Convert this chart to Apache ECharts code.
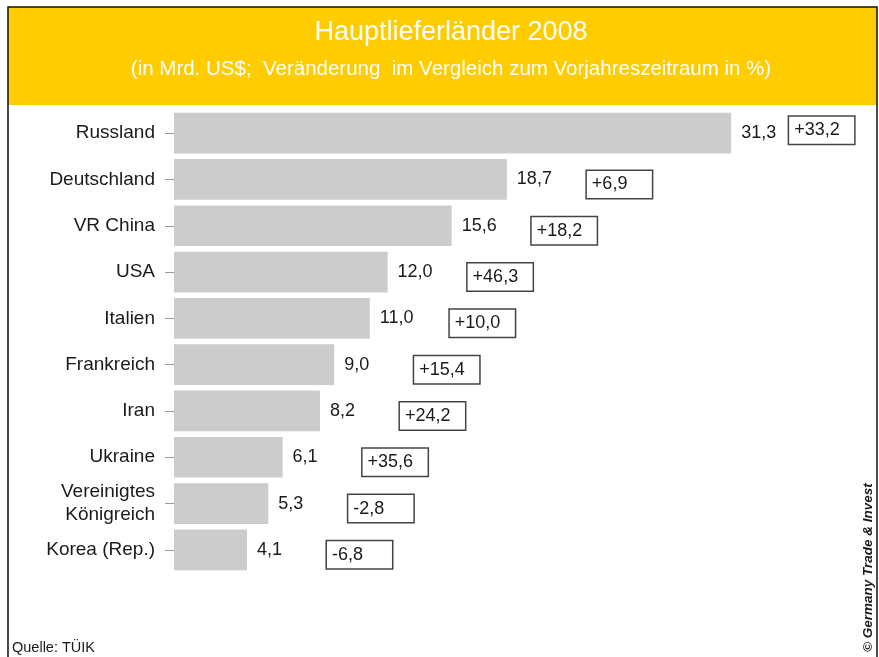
<!DOCTYPE html>
<html lang="de">
<head>
    <meta charset="UTF-8">
    <title>Hauptlieferländer 2008</title>
    <script type="text/javascript" src="https://cdn.jsdelivr.net/npm/echarts@6/dist/echarts.min.js"></script>
    <style>
        html, body { margin: 0; padding: 0; background: #fff; }
        #main { width: 879px; height: 657px; }
    </style>
</head>
<body>
<div id="main"></div>
<script>
    // Länder (von oben nach unten)
    var countries = ['Russland', 'Deutschland', 'VR China', 'USA', 'Italien',
        'Frankreich', 'Iran', 'Ukraine', 'Vereinigtes\nKönigreich', 'Korea (Rep.)'];
    // Einfuhr in Mrd. US$
    var imports = [31.3, 18.7, 15.6, 12.0, 11.0, 9.0, 8.2, 6.1, 5.3, 4.1];
    // Veränderung zum Vorjahr in %
    var changes = [33.2, 6.9, 18.2, 46.3, 10.0, 15.4, 24.2, 35.6, -2.8, -6.8];

    var font = '"Liberation Sans", Arial, sans-serif';

    function fmt(v) {
        return v.toFixed(1).replace('.', ',');
    }
    function fmtChange(v) {
        return (v > 0 ? '+' : '') + fmt(v);
    }

    var chart = echarts.init(document.getElementById('main'));
    var option = {
        animation: false,
        grid: { left: 174, right: 82, top: 110, bottom: 84 },
        xAxis: {
            type: 'value',
            min: 0,
            max: 35,
            show: false
        },
        yAxis: {
            type: 'category',
            inverse: true,
            data: countries,
            axisLine: { show: false },
            axisTick: { show: true, alignWithLabel: true, length: 9, lineStyle: { color: '#9a9a9a' } },
            axisLabel: {
                color: '#1a1a1a',
                fontFamily: font,
                fontSize: 19,
                lineHeight: 23,
                margin: 19
            }
        },
        series: [
            {
                type: 'bar',
                data: imports,
                barWidth: '88%',
                itemStyle: { color: '#cccccc' },
                label: {
                    show: true,
                    position: 'right',
                    distance: 10,
                    color: '#1a1a1a',
                    fontFamily: font,
                    fontSize: 18,
                    formatter: function (p) { return fmt(p.value); }
                },
                z: 2
            },
            {
                // unsichtbare Balken, nur für die Kästchen mit der Veränderung
                type: 'bar',
                barGap: '-100%',
                barWidth: '88%',
                silent: true,
                itemStyle: { color: 'rgba(0,0,0,0)' },
                data: imports.map(function (v, i) {
                    var item = { value: v, change: changes[i] };
                    if (i === 0) item.label = { distance: 58, offset: [0, -3] };
                    return item;
                }),
                label: {
                    show: true,
                    position: 'right',
                    distance: 80,
                    offset: [0, 5],
                    color: '#1a1a1a',
                    fontFamily: font,
                    fontSize: 18,
                    width: 54,
                    align: 'left',
                    padding: [5, 6, 4, 5],
                    borderColor: '#444',
                    borderWidth: 1.5,
                    backgroundColor: '#fff',
                    formatter: function (p) { return fmtChange(p.data.change); }
                },
                z: 3
            }
        ],
        graphic: [
            {
                type: 'rect',
                shape: { x: 8, y: 7, width: 869, height: 98 },
                style: { fill: '#ffcc00' },
                z: -1
            },
            {
                type: 'rect',
                shape: { x: 8, y: 7, width: 869, height: 660 },
                style: { fill: 'none', stroke: '#111', lineWidth: 1.5 },
                z: 10
            },
            {
                type: 'text',
                x: 451, y: 33,
                style: {
                    text: 'Hauptlieferländer 2008',
                    fill: '#fff',
                    font: '27px ' + font,
                    align: 'center',
                    verticalAlign: 'middle'
                }
            },
            {
                type: 'text',
                x: 451, y: 69,
                style: {
                    text: '(in Mrd. US$;  Veränderung  im Vergleich zum Vorjahreszeitraum in %)',
                    fill: '#fff',
                    font: '20.5px ' + font,
                    align: 'center',
                    verticalAlign: 'middle'
                }
            },
            {
                type: 'text',
                x: 12, y: 648,
                style: {
                    text: 'Quelle: TÜIK',
                    fill: '#1a1a1a',
                    font: '14.5px ' + font,
                    verticalAlign: 'middle'
                }
            },
            {
                type: 'text',
                x: 868, y: 652,
                rotation: Math.PI / 2,
                style: {
                    text: '© Germany Trade & Invest',
                    fill: '#1a1a1a',
                    font: 'italic bold 13.5px ' + font,
                    verticalAlign: 'middle'
                }
            }
        ]
    };
    chart.setOption(option);
</script>
</body>
</html>
